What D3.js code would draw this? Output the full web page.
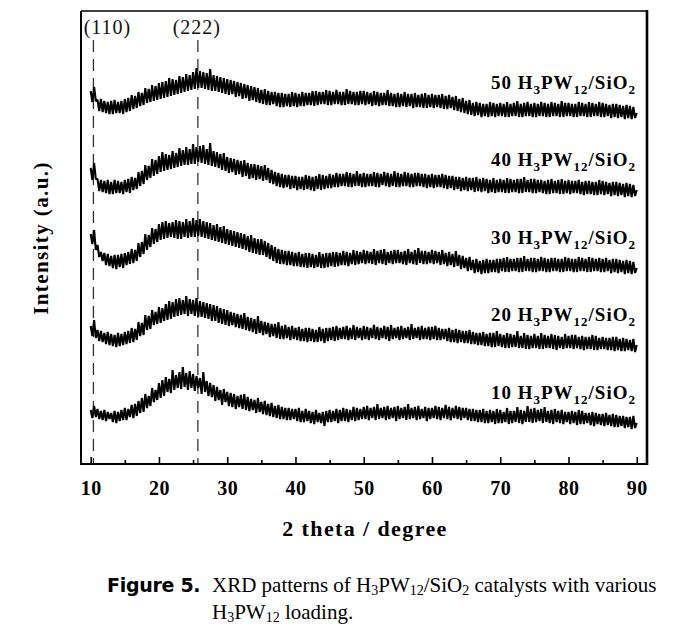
<!DOCTYPE html>
<html><head><meta charset="utf-8">
<script src="https://cdn.jsdelivr.net/npm/d3@7"></script>
<style>body{margin:0;background:#fff}svg{display:block}</style>
</head><body>
<svg id="chart" width="685" height="631"></svg>
<script>
// ---- data ----
const startAngle = 10;      // 2θ of first sample (degree)
const stepAngle = 0.25;     // 2θ step (degree)
const loadings = ["10", "20", "30", "40", "50"];
const xMajorTicks = [10, 20, 30, 40, 50, 60, 70, 80, 90];
const xMinorTicks = [15, 25, 35, 45, 55, 65, 75, 85];
const peakLabels = ["(110)", "(222)"];
const peakAngles = [10.4, 25.7];

// stacked intensities (a.u.), one value per 0.25° from 10° to 90°
const int10 = [
54,46,58,47, 55,45,53,44, 54,43,52,45, 51,42,53,41, 52,43,54,44,
56,44,55,47, 59,46,60,48, 63,51,66,52, 70,56,68,58, 76,62,74,64,
81,66,84,68, 87,72,85,71, 94,74,89,76, 92,75,97,77, 91,74,93,76,
90,73,88,76, 86,70,92,72, 83,68,81,67, 79,63,77,64, 74,59,75,62,
72,58,71,57, 70,55,68,57, 69,55,70,54, 67,53,65,54, 64,51,66,52,
62,50,63,49, 60,48,61,47, 58,46,59,45, 57,45,56,44, 56,44,55,45,
55,43,56,42, 53,42,55,43, 53,41,52,40, 54,42,51,41, 52,38,53,42,
54,42,53,43, 55,41,54,43, 56,43,55,42, 54,44,57,43, 56,44,55,45,
57,45,58,44, 56,46,57,44, 60,45,56,46, 57,44,58,45, 56,46,57,43,
58,45,56,46, 57,44,60,45, 56,46,57,44, 58,45,55,46, 57,43,56,45,
56,46,58,45, 57,44,56,46, 59,45,57,44, 56,46,58,45, 57,44,56,46,
56,44,55,43, 55,43,54,42, 54,42,55,41, 53,41,54,42, 53,40,55,41,
54,41,52,42, 56,40,53,41, 53,42,57,41, 54,40,53,42, 58,42,55,41,
56,42,54,43, 55,41,57,42, 53,41,54,40, 55,42,53,41, 54,40,52,42,
52,40,53,41, 52,39,54,40, 53,40,51,41, 51,39,52,38, 51,40,50,39,
50,38,51,39, 49,38,50,37, 49,37,48,38, 48,36,47,37, 47,35,48,36,
41];
const int20 = [
138,128,144,126, 134,123,133,122, 131,120,132,119, 130,118,129,117, 131,118,130,119,
132,120,133,121, 136,122,135,124, 142,128,141,129, 149,134,148,135, 154,139,152,140,
157,141,156,143, 160,144,163,145, 162,147,165,148, 166,149,164,150, 168,148,165,150,
164,148,166,147, 163,147,162,146, 161,145,160,143, 159,143,158,141, 156,140,155,139,
154,138,152,139, 151,137,150,136, 149,135,151,134, 147,133,146,132, 145,130,148,131,
143,129,142,130, 141,127,140,128, 140,126,142,125, 138,125,139,126, 137,124,138,125,
136,124,137,123, 135,123,136,122, 136,123,135,122, 134,122,137,123, 135,121,136,123,
136,124,137,123, 138,124,136,125, 137,125,138,124, 136,125,139,124, 137,126,136,124,
138,125,137,124, 136,126,139,125, 137,124,136,126, 138,125,137,123, 139,125,136,126,
137,124,138,125, 136,126,137,124, 140,125,136,126, 137,124,138,125, 136,125,137,124,
137,125,138,124, 136,124,135,125, 135,123,136,122, 134,122,135,121, 134,122,133,121,
133,121,134,120, 132,120,131,119, 131,119,132,118, 130,118,131,117, 131,117,133,118,
130,117,129,116, 131,116,130,117, 129,117,133,116, 128,116,131,115, 129,115,128,116,
130,116,128,115, 131,115,129,116, 128,116,130,115, 129,114,128,116, 127,115,130,116,
128,116,129,115, 129,116,127,115, 128,114,127,115, 127,115,129,114, 128,114,126,115,
127,115,126,114, 126,114,127,113, 127,114,125,113, 126,113,125,114, 124,113,125,112,
119];
const int30 = [
230,220,234,214, 219,207,212,203, 211,199,210,198, 208,196,209,195, 209,197,210,196,
211,199,212,200, 215,201,214,203, 221,207,222,210, 230,214,229,217, 236,220,235,222,
240,224,242,225, 243,226,241,227, 242,226,244,225, 243,225,242,227, 245,226,243,227,
246,227,244,228, 245,227,243,226, 242,225,241,224, 239,223,240,222, 237,221,238,220,
235,219,234,218, 233,217,232,216, 231,215,230,214, 228,212,229,211, 226,210,225,209,
225,209,223,207, 221,205,219,203, 217,201,215,200, 214,200,213,199, 213,199,212,198,
211,198,212,197, 210,197,211,196, 211,197,210,196, 209,197,212,196, 210,196,211,197,
211,198,212,197, 212,198,211,199, 213,199,212,198, 211,200,214,199, 213,200,212,201,
214,200,213,201, 212,200,215,199, 213,201,214,200, 215,199,212,201, 213,200,214,201,
214,201,212,200, 213,199,215,201, 212,200,214,199, 216,201,213,200, 213,200,212,201,
214,200,213,201, 212,199,214,200, 211,198,212,199, 210,197,213,198, 209,195,208,196,
206,193,207,194, 204,191,205,192, 203,190,204,191, 205,191,204,192, 204,192,205,191,
205,193,206,192, 207,192,205,193, 205,193,206,192, 206,192,208,193, 205,193,206,192,
206,192,205,193, 207,193,206,192, 205,192,206,193, 206,193,205,192, 205,192,207,193,
206,193,205,192, 205,192,207,193, 206,193,205,192, 207,192,206,193, 205,193,206,192,
205,192,206,193, 204,191,205,192, 205,191,204,192, 203,190,204,191, 203,190,202,191,
196];
const int40 = [
296,284,301,285, 285,273,284,272, 283,271,284,270, 282,270,284,271, 283,271,282,270,
284,272,285,271, 287,274,286,275, 292,278,293,280, 299,284,298,286, 305,288,304,290,
308,292,312,293, 310,294,309,295, 313,296,311,297, 316,298,314,299, 317,299,315,300,
320,300,317,302, 318,301,319,300, 315,299,321,298, 313,297,312,296, 310,294,311,293,
307,291,306,292, 305,289,304,290, 303,287,304,288, 301,285,300,286, 300,284,299,285,
298,283,299,284, 296,281,294,280, 292,278,291,277, 290,276,289,277, 289,275,288,276,
288,274,287,275, 287,274,289,275, 288,274,287,273, 288,275,290,274, 289,275,288,276,
290,276,289,277, 291,277,290,278, 290,278,292,277, 291,277,290,278, 293,278,290,277,
291,277,290,278, 290,278,292,277, 291,277,290,279, 292,278,291,277, 290,278,293,277,
291,277,290,278, 292,278,291,277, 290,277,291,278, 291,278,290,277, 290,276,289,277,
290,276,289,277, 289,277,290,276, 289,275,288,276, 288,274,287,275, 287,273,286,274,
287,273,286,274, 286,272,287,273, 285,272,286,273, 285,271,284,272, 286,271,284,272,
285,272,284,271, 286,271,285,272, 284,272,285,271, 285,271,287,272, 284,272,285,271,
285,271,284,272, 284,271,283,270, 284,270,285,271, 283,271,284,270, 285,270,283,271,
284,270,283,271, 283,271,284,270, 282,269,283,270, 283,270,282,269, 282,269,284,270,
283,269,282,270, 281,268,282,269, 282,268,281,269, 280,267,281,268, 280,267,279,268,
274];
const int50 = [
373,362,377,363, 364,353,365,352, 363,351,362,350, 363,350,364,351, 362,351,363,350,
365,352,366,353, 369,355,368,356, 372,358,371,359, 376,361,375,362, 379,363,378,364,
381,365,382,366, 383,367,386,368, 385,369,384,370, 388,371,387,372, 390,373,389,374,
392,375,396,376, 393,376,392,375, 391,374,395,373, 389,373,388,372, 387,371,386,370,
385,369,384,370, 383,367,382,368, 381,365,380,366, 379,363,378,364, 377,362,376,361,
374,360,375,359, 373,359,372,360, 372,358,371,357, 371,357,370,358, 370,357,372,358,
371,357,370,358, 372,358,371,359, 371,359,373,358, 373,359,372,360, 372,360,374,359,
373,359,372,360, 374,360,372,359, 372,359,375,360, 373,360,372,359, 372,359,373,360,
373,359,372,360, 371,358,373,359, 372,358,371,359, 371,359,374,358, 371,358,370,357,
371,357,370,358, 372,357,370,358, 370,356,371,357, 369,357,370,356, 371,356,369,357,
370,356,369,357, 369,356,370,355, 368,355,369,356, 367,354,368,353, 365,352,366,351,
363,350,364,349, 361,348,362,349, 361,347,360,348, 360,347,362,348, 361,347,360,348,
361,348,360,347, 362,347,360,348, 361,348,363,347, 360,347,361,348, 362,348,360,347,
361,347,360,348, 362,348,361,347, 360,347,362,348, 361,348,360,347, 363,347,361,348,
361,348,360,347, 360,347,362,348, 361,348,360,347, 362,347,361,348, 360,348,362,347,
361,347,360,348, 359,346,360,347, 360,346,359,347, 358,345,359,346, 358,345,357,346,
351];
const seriesValues = [int10, int20, int30, int40, int50];

// ---- drawing ----
const svg = d3.select("#chart");
const x = d3.scaleLinear().domain([8.58, 91.5]).range([81, 647]);
const y = d3.scaleLinear().domain([0, 453]).range([464, 11]);

const serif = "'Liberation Serif','Times New Roman',serif";

// dashed reference lines
svg.append("g").selectAll("line").data(peakAngles).join("line")
  .attr("x1", d => x(d)).attr("x2", d => x(d))
  .attr("y1", y(424)).attr("y2", y(0))
  .attr("stroke", "#333").attr("stroke-width", 1.3)
  .attr("stroke-dasharray", "12,7");

svg.append("g").selectAll("text").data(peakLabels).join("text")
  .attr("x", (d, i) => x(peakAngles[i]) + (i === 0 ? 14 : -1))
  .attr("y", 34)
  .attr("text-anchor", "middle")
  .attr("font-family", serif).attr("font-size", 20).attr("letter-spacing", 1)
  .attr("fill", "#111")
  .text(d => d);

// traces
const line = d3.line()
  .x((d, i) => x(startAngle + i * stepAngle))
  .y(d => y(d));

svg.append("g").selectAll("path").data(seriesValues).join("path")
  .attr("d", line)
  .attr("fill", "none").attr("stroke", "#000")
  .attr("stroke-width", 2.1).attr("stroke-linejoin", "bevel");

// series labels
const labG = svg.append("g");
seriesValues.forEach((vals, i) => {
  const t = labG.append("text")
    .attr("x", 636).attr("y", y(vals[vals.length - 1]) - 24)
    .attr("text-anchor", "end")
    .attr("font-family", serif).attr("font-weight", "bold")
    .attr("font-size", 19).attr("letter-spacing", 1).attr("fill", "#000");
  const parts = [[loadings[i] + " H", 0], ["3", 1], ["PW", 0], ["12", 1], ["/SiO", 0], ["2", 1]];
  let prev = 0;
  parts.forEach(([s, sub]) => {
    const ts = t.append("tspan").text(s);
    if (sub) ts.attr("font-size", 13);
    ts.attr("dy", sub && !prev ? 5 : (!sub && prev ? -5 : 0));
    prev = sub;
  });
});

// axes
const axMajor = d3.axisBottom(x).tickValues(xMajorTicks).tickSize(-7).tickPadding(17).tickFormat(d3.format("d"));
const axMinor = d3.axisBottom(x).tickValues(xMinorTicks).tickSize(-4).tickFormat("");
const gMaj = svg.append("g").attr("transform", "translate(0,464)").call(axMajor);
const gMin = svg.append("g").attr("transform", "translate(0,464)").call(axMinor);
[gMaj, gMin].forEach(g => {
  g.select(".domain").remove();
  g.selectAll("line").attr("stroke", "#000").attr("stroke-width", 1.6);
});
gMaj.selectAll("text")
  .attr("font-family", serif).attr("font-weight", "bold")
  .attr("font-size", 20).attr("letter-spacing", 0.5).attr("fill", "#000");

// frame
const fr = svg.append("g").attr("stroke", "#000").attr("fill", "none");
fr.append("line").attr("x1", 81).attr("x2", 647).attr("y1", 11).attr("y2", 11).attr("stroke-width", 1.6);
fr.append("line").attr("x1", 81).attr("x2", 81).attr("y1", 11).attr("y2", 464).attr("stroke-width", 2);
fr.append("line").attr("x1", 647).attr("x2", 647).attr("y1", 10).attr("y2", 465).attr("stroke-width", 2.6);
fr.append("line").attr("x1", 80).attr("x2", 648).attr("y1", 464).attr("y2", 464).attr("stroke-width", 2.2);

// axis titles
svg.append("text")
  .attr("x", 365).attr("y", 536).attr("text-anchor", "middle")
  .attr("font-family", serif).attr("font-weight", "bold")
  .attr("font-size", 22).attr("letter-spacing", 1.4).attr("fill", "#000")
  .text("2 theta / degree");

svg.append("text")
  .attr("transform", "translate(48,238) rotate(-90)")
  .attr("text-anchor", "middle")
  .attr("font-family", serif).attr("font-weight", "bold")
  .attr("font-size", 21).attr("letter-spacing", 1.4).attr("fill", "#000")
  .text("Intensity (a.u.)");

// caption
const cap = svg.append("g").attr("fill", "#000");
cap.append("text").attr("x", 107).attr("y", 592)
  .attr("font-family", "'DejaVu Sans',sans-serif").attr("font-weight", "bold")
  .attr("font-size", 19).attr("letter-spacing", -0.3)
  .text("Figure 5.");

function captionLine(yPos, parts) {
  const t = cap.append("text").attr("x", 212).attr("y", yPos)
    .attr("font-family", serif).attr("font-size", 21);
  let prev = 0;
  parts.forEach(([s, sub]) => {
    const ts = t.append("tspan").text(s);
    if (sub) ts.attr("font-size", 14);
    ts.attr("dy", sub && !prev ? 3 : (!sub && prev ? -3 : 0));
    prev = sub;
  });
}
captionLine(592, [["XRD patterns of H", 0], ["3", 1], ["PW", 0], ["12", 1], ["/SiO", 0], ["2", 1], [" catalysts with various", 0]]);
captionLine(619, [["H", 0], ["3", 1], ["PW", 0], ["12", 1], [" loading.", 0]]);
</script>
</body></html>
